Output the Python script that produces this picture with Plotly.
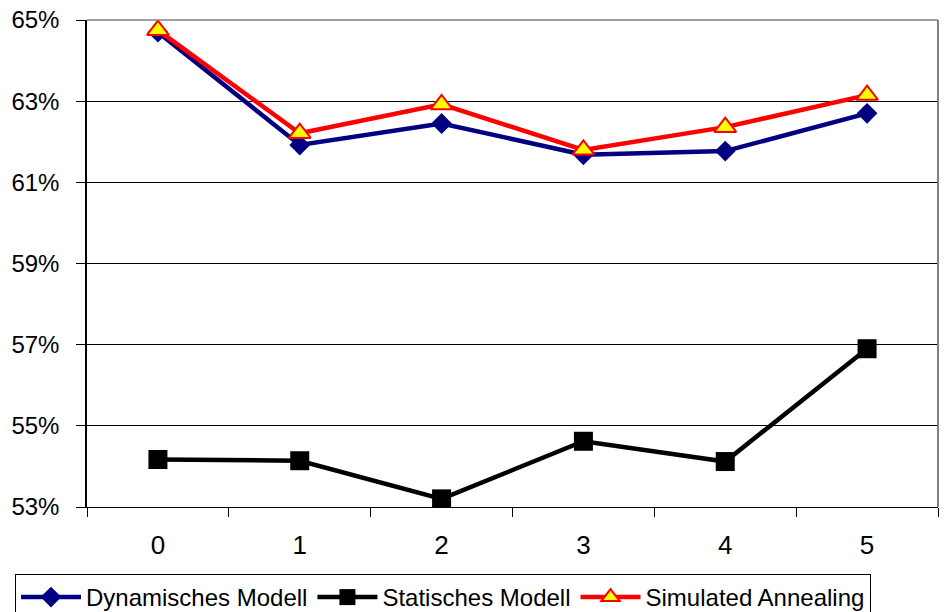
import plotly.graph_objects as go

categories = ["0", "1", "2", "3", "4", "5"]
dynamisch = [64.70, 61.92, 62.45, 61.68, 61.77, 62.70]
statisch = [54.17, 54.14, 53.20, 54.62, 54.12, 56.90]
annealing = [64.75, 62.21, 62.92, 61.80, 62.36, 63.15]
y_ticks = [53, 55, 57, 59, 61, 63, 65]
y_labels = [f"{v}%" for v in y_ticks]

W, H = 952, 612

fig = go.Figure()
fig.add_trace(go.Scatter(x=categories, y=dynamisch, name="Dynamisches Modell", mode="lines+markers",
                         line=dict(color="#000080", width=4.5),
                         marker=dict(symbol="diamond", size=16, color="#000080")))
fig.add_trace(go.Scatter(x=categories, y=statisch, name="Statisches Modell", mode="lines+markers",
                         line=dict(color="#000000", width=4.5),
                         marker=dict(symbol="square", size=19, color="#000000")))
fig.add_trace(go.Scatter(x=categories, y=annealing, name="Simulated Annealing", mode="lines+markers",
                         line=dict(color="#ff0000", width=4.5),
                         marker=dict(symbol="triangle-up", size=19, color="#ffff00",
                                     line=dict(color="#ff0000", width=2))))

fig.update_layout(
    width=W, height=H,
    margin=dict(l=87, r=14, t=19.5, b=105, autoexpand=False),
    paper_bgcolor="white", plot_bgcolor="white",
    font=dict(family="Liberation Sans, Arial", size=24, color="black"),
    showlegend=True,
    legend=dict(orientation="h", xref="container", yref="container",
                x=15/W, y=1-574/H, xanchor="left", yanchor="top",
                bordercolor="black", borderwidth=1, bgcolor="white",
                font=dict(size=24), itemwidth=60, tracegroupgap=0),
    xaxis=dict(type="category", tickson="boundaries", ticks="outside", ticklen=9,
               tickcolor="black", showline=True, linecolor="black", linewidth=1,
               showgrid=False, tickfont=dict(size=26), range=[-0.5, 5.5],
               ticklabelstandoff=15, automargin=False, ticklabeloverflow="allow"),
    yaxis=dict(range=[53, 65], tickvals=y_ticks, ticktext=y_labels, ticks="outside", ticklen=9,
               tickcolor="black", showline=True, linecolor="black", linewidth=1.5,
               showgrid=True, gridcolor="black", gridwidth=1, zeroline=False,
               tickfont=dict(size=24), ticklabelstandoff=12, automargin=False,
               ticklabeloverflow="allow"),
)
fig.add_shape(type="line", xref="paper", yref="paper", x0=1, x1=1, y0=0, y1=1,
              line=dict(color="#808080", width=2))
fig.add_shape(type="line", xref="paper", yref="paper", x0=0, x1=1, y0=1, y1=1,
              line=dict(color="#808080", width=1.5))
fig.write_html("out.html", config={"displayModeBar": False},
               post_script="document.body.style.margin='0';document.body.style.overflow='hidden';")
